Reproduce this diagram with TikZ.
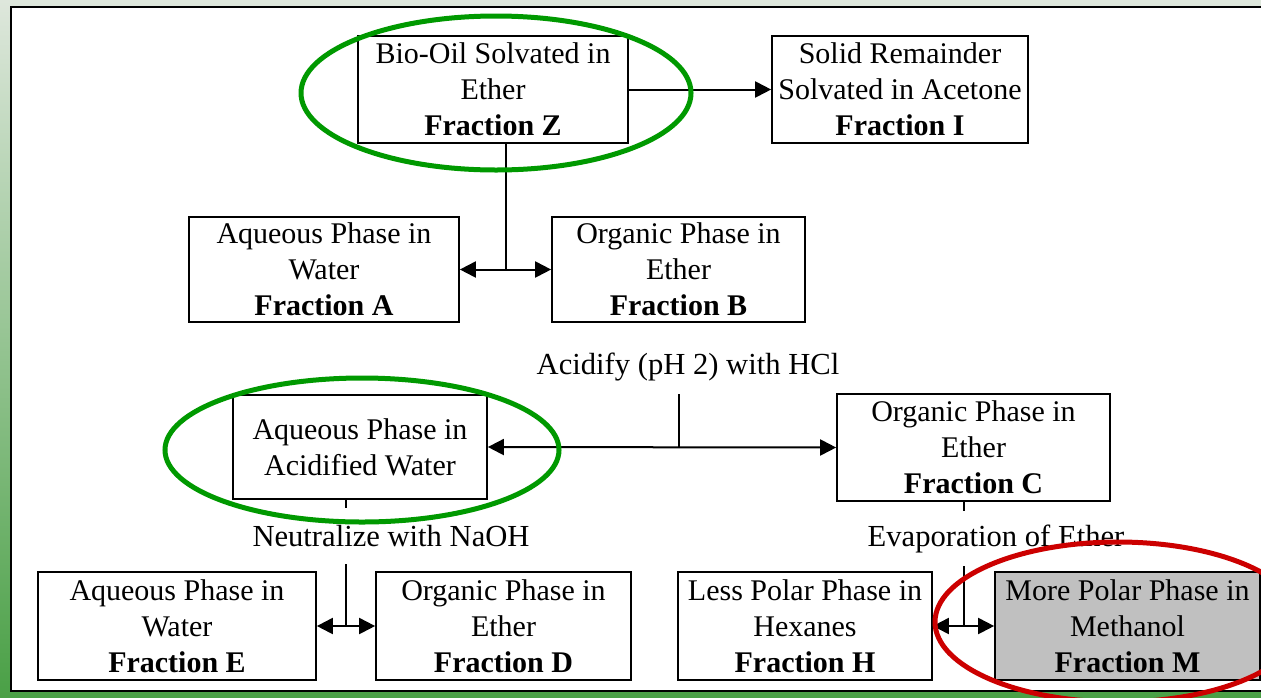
\documentclass[tikz,border=0pt]{standalone}
\usepackage{fontspec}
\setmainfont{Liberation Serif}
\usetikzlibrary{arrows.meta,calc}
\definecolor{ovalgreen}{RGB}{0,153,0}
\definecolor{ovalred}{RGB}{204,0,0}
\definecolor{boxgray}{RGB}{192,192,192}
\definecolor{frametop}{RGB}{222,231,220}
\definecolor{framebot}{RGB}{74,160,70}
\begin{document}
\begin{tikzpicture}[x=0.5pt,y=-0.5pt,
  fbox/.style={draw,line width=0.85pt,fill=white,align=center,inner sep=0pt,
    font=\fontsize{15}{18}\selectfont},
  lbl/.style={inner sep=0pt,align=center,font=\fontsize{15.3}{18}\selectfont},
  conn/.style={line width=1pt},
  tipend/.style={conn,-{Triangle[length=8pt,width=8pt]}},
  tipboth/.style={conn,{Triangle[length=8pt,width=8pt]}-{Triangle[length=8pt,width=8pt]}},
  oval/.style={line width=2.5pt}]
\useasboundingbox (0,0) rectangle (1261,697);
\clip (0,0) rectangle (1261,697);
% frame
\shade[top color=frametop, bottom color=framebot] (0,0) rectangle (1261,697);
\draw[line width=1.25pt, fill=white] (11,7) rectangle (1275,691);

% boxes
\node[fbox, minimum width=135pt, minimum height=53.5pt] (Z) at (493,89.5)
  {Bio-Oil Solvated in\\Ether\\\textbf{Fraction Z}};
\node[fbox, minimum width=128pt, minimum height=53.5pt] (I) at (900,89.5)
  {Solid Remainder\\Solvated in Acetone\\\textbf{Fraction I}};
\node[fbox, minimum width=135pt, minimum height=52.5pt] (A) at (324,269.5)
  {Aqueous Phase in\\Water\\\textbf{Fraction A}};
\node[fbox, minimum width=126.5pt, minimum height=52.5pt] (B) at (678.5,269.5)
  {Organic Phase in\\Ether\\\textbf{Fraction B}};
\node[fbox, minimum width=127pt, minimum height=52pt] (Q) at (360,447)
  {Aqueous Phase in\\Acidified Water};
\node[fbox, minimum width=136.5pt, minimum height=53.5pt] (C) at (973.5,447.5)
  {Organic Phase in\\Ether\\\textbf{Fraction C}};
\node[fbox, minimum width=139pt, minimum height=54pt] (E) at (177,626)
  {Aqueous Phase in\\Water\\\textbf{Fraction E}};
\node[fbox, minimum width=127.5pt, minimum height=54pt] (D) at (503.5,626)
  {Organic Phase in\\Ether\\\textbf{Fraction D}};
\node[fbox, minimum width=127pt, minimum height=54pt] (H) at (805,626)
  {Less Polar Phase in\\Hexanes\\\textbf{Fraction H}};
\node[fbox, fill=boxgray, minimum width=132.5pt, minimum height=54pt] (M) at (1127.5,626)
  {More Polar Phase in\\Methanol\\\textbf{Fraction M}};

% labels
\node[lbl, minimum height=27pt] (acid) at (688,367) {Acidify (pH 2) with HCl};
\node[lbl, minimum height=28pt] (neut) at (391,536) {Neutralize with NaOH};
\node[lbl, minimum height=27.5pt] (evap) at (996,538.5) {Evaporation of Ether};

% connectors
\draw[tipend] (Z.east) -- (I.west);

\coordinate (ab) at ($(A.east)!0.5!(B.west)$);
\draw[conn] (Z.south -| ab) -- (ab);
\draw[tipboth] (A.east) -- (B.west);

\coordinate (qc) at (B.south |- Q.east);
\draw[conn] (acid.south -| B.south) -- (qc);
\draw[tipboth] (Q.east) -- (C.west);

\coordinate (ed) at ($(E.east)!0.5!(D.west)$);
\draw[conn] (Q.south -| ed) -- (neut.north -| ed);
\draw[conn] (neut.south -| ed) -- (ed);
\draw[tipboth] (E.east) -- (D.west);

\coordinate (hm) at ($(H.east)!0.5!(M.west)$);
\draw[conn] (C.south -| hm) -- (evap.north -| hm);
\draw[conn] (evap.south -| hm) -- (hm);
\draw[tipboth] (H.east) -- (M.west);

% highlight ovals
\draw[oval, ovalgreen] (496,93) ellipse [x radius=97.5pt, y radius=38.5pt];
\draw[oval, ovalgreen] (362,450) ellipse [x radius=98.5pt, y radius=36pt];
\draw[oval, ovalred] (1118,622) ellipse [x radius=91.5pt, y radius=40pt];
\end{tikzpicture}
\end{document}
